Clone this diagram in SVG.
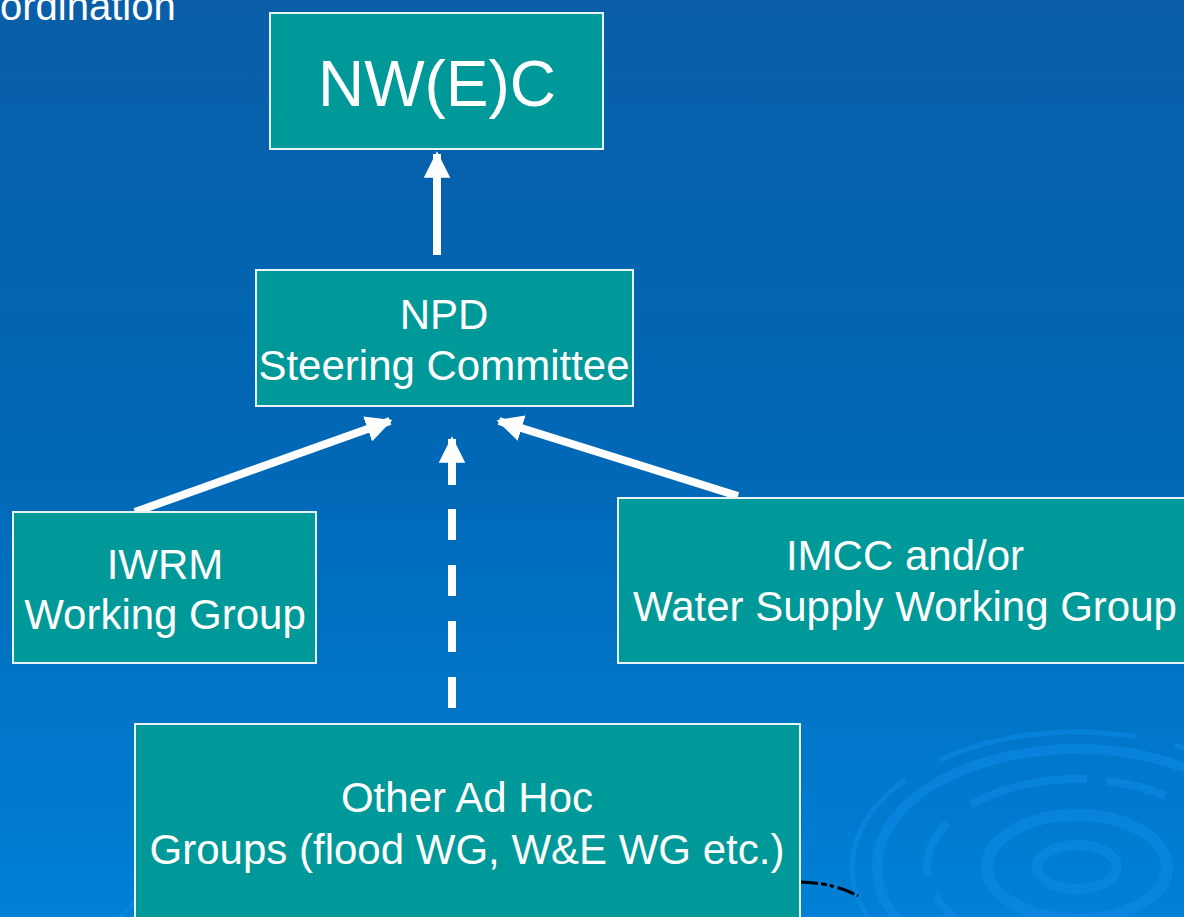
<svg xmlns="http://www.w3.org/2000/svg" width="1184" height="917" viewBox="0 0 1184 917">
<defs>
<linearGradient id="bg" x1="0" y1="0" x2="0" y2="1">
<stop offset="0" stop-color="#0a5ea8"/>
<stop offset="0.5" stop-color="#0068b6"/>
<stop offset="1" stop-color="#0080d6"/>
</linearGradient>
<marker id="ah" viewBox="0 0 10 10" refX="9" refY="5" markerWidth="3.3" markerHeight="3.3" orient="auto" markerUnits="strokeWidth">
<path d="M0,0 L10,5 L0,10 z" fill="#fff"/>
</marker>
<style>
.box{fill:#009999;stroke:#e8f4f4;stroke-width:2}
.t{font-family:"Liberation Sans",Arial,sans-serif;fill:#fff;text-anchor:middle;font-size:42px}
.c{stroke:#fff;stroke-width:8;fill:none}
.rip{fill:none;stroke:#0a88e2;opacity:0.7}
</style>
</defs>
<rect width="1184" height="917" fill="url(#bg)"/>
<g id="ripples">
<ellipse class="rip" cx="1077" cy="867" rx="40" ry="22" stroke-width="10"/>
<ellipse class="rip" cx="1077" cy="867" rx="90" ry="52" stroke-width="12"/>
<ellipse class="rip" cx="1077" cy="867" rx="150" ry="88" stroke-width="8" stroke-dasharray="120 20 60 30"/>
<ellipse class="rip" cx="1077" cy="867" rx="200" ry="118" stroke-width="10"/>
<ellipse class="rip" cx="1077" cy="867" rx="225" ry="135" stroke-width="5" stroke-dasharray="200 40"/>
<path d="M120,917 Q140,895 160,882" class="rip" stroke-width="4"/>
<path d="M800,882 Q835,883 858,896" stroke="#000" stroke-width="3" fill="none" stroke-dasharray="18 3 6 3 4 4"/>
</g>
<text class="t" x="0" y="20" style="text-anchor:start;font-size:40px">ordination</text>
<g id="connectors">
<line class="c" x1="437" y1="255" x2="437" y2="154" marker-end="url(#ah)"/>
<line class="c" x1="135" y1="512" x2="390" y2="421" marker-end="url(#ah)"/>
<line class="c" x1="738" y1="496" x2="499" y2="421" marker-end="url(#ah)"/>
<line class="c" x1="452" y1="708" x2="452" y2="485" stroke-dasharray="31 25"/>
<line class="c" x1="452" y1="485" x2="452" y2="439" marker-end="url(#ah)"/>
</g>
<g id="nwec">
<rect class="box" x="270" y="13" width="333" height="136"/>
<text class="t" x="437" y="106" style="font-size:64px">NW(E)C</text>
</g>
<g id="npd">
<rect class="box" x="256" y="270" width="377" height="136"/>
<text class="t" x="444" y="329">NPD</text>
<text class="t" x="444" y="380">Steering Committee</text>
</g>
<g id="iwrm">
<rect class="box" x="13" y="512" width="303" height="151"/>
<text class="t" x="165" y="579">IWRM</text>
<text class="t" x="165" y="629">Working Group</text>
</g>
<g id="imcc">
<rect class="box" x="618" y="498" width="570" height="165"/>
<text class="t" x="905" y="570">IMCC and/or</text>
<text class="t" x="905" y="621">Water Supply Working Group</text>
</g>
<g id="adhoc">
<rect class="box" x="135" y="724" width="665" height="200"/>
<text class="t" x="467" y="812">Other Ad Hoc</text>
<text class="t" x="467" y="864">Groups (flood WG, W&amp;E WG etc.)</text>
</g>
</svg>
